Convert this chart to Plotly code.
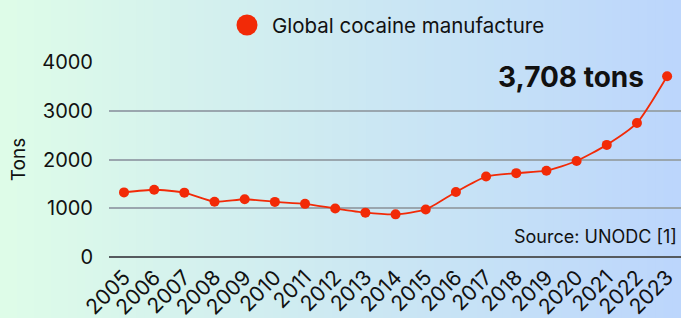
import plotly.graph_objects as go

years = [str(y) for y in range(2005, 2024)]
tons = [1325, 1380, 1320, 1135, 1185, 1130, 1090, 995, 910, 875, 975, 1335, 1650, 1720, 1770, 1970, 2300, 2750, 3708]
y_ticks = [0, 1000, 2000, 3000, 4000]
series_name = "Global cocaine manufacture"
callout = "3,708 tons"
source_text = "Source: UNODC [1]"

W, H = 681, 318
ML, MR, MT, MB = 109, 0, 62, 61
FONT = "Inter"
RED = "#f22a07"
TXT = "#111111"

fig = go.Figure()
fig.add_trace(go.Scatter(
    x=list(range(len(years))), y=tons, mode="lines+markers", name=series_name,
    line=dict(color=RED, width=1.8, shape="spline", smoothing=0.6),
    marker=dict(color=RED, size=10),
    showlegend=False, cliponaxis=False,
))

pw = W - ML - MR
ph = H - MT - MB
x0p = -ML / pw
x1p = 1 + MR / pw
n = 80
c0 = (222, 252, 232)
c1 = (188, 214, 252)
shapes = []
for i in range(n):
    t = i / (n - 1)
    c = tuple(round(c0[k] + (c1[k] - c0[k]) * t) for k in range(3))
    a = x0p + (x1p - x0p) * i / n
    b = x0p + (x1p - x0p) * (i + 1) / n + 0.002
    shapes.append(dict(type="rect", xref="paper", yref="paper", x0=a, x1=b, y0=-1, y1=2,
                       fillcolor="rgb(%d,%d,%d)" % c, line=dict(width=0), layer="below"))

# legend (manual, to match the large symbol)
leg_x = (247 - ML) / pw
leg_y = (H - MB - 25) / ph
shapes.append(dict(type="circle", xref="paper", yref="paper", xsizemode="pixel", ysizemode="pixel",
                   xanchor=leg_x, yanchor=leg_y, x0=-10.5, x1=10.5, y0=-10.5, y1=10.5,
                   fillcolor=RED, line=dict(width=0)))

fig.update_layout(
    width=W, height=H, margin=dict(l=ML, r=MR, t=MT, b=MB, autoexpand=False),
    paper_bgcolor="#d6f0ee", plot_bgcolor="rgba(0,0,0,0)",
    font=dict(family=FONT, color=TXT, size=20),
    shapes=shapes,
    showlegend=False,
    xaxis=dict(tickmode="array", tickvals=list(range(len(years))), ticktext=years,
               range=[-0.497, 18.46], tickangle=-45, showgrid=False, automargin=False,
               zeroline=False, showline=False, tickfont=dict(size=21),
               ticklabelstandoff=3, ticklabeloverflow="allow"),
    yaxis=dict(range=[0, 4000], tickvals=y_ticks, showgrid=True, gridcolor="#9aa6ae",
               gridwidth=1.5, zeroline=True, zerolinecolor="#555a5e", zerolinewidth=2,
               automargin=False,
               title=dict(text="Tons", font=dict(size=19), standoff=11),
               ticklabelstandoff=15, tickfont=dict(size=20)),
    annotations=[
        dict(x=(270 - ML) / pw, y=leg_y, xref="paper", yref="paper", text=series_name,
             showarrow=False, xanchor="left", yanchor="middle", font=dict(size=20.5, color=TXT)),
        dict(x=len(years) - 1, y=tons[-1], xref="x", yref="y", text="<b>" + callout + "</b>",
             showarrow=False, xanchor="right", yanchor="middle", xshift=-21, yshift=-1,
             font=dict(size=28, color=TXT)),
        dict(x=1, y=430, xref="paper", yref="y", text=source_text, showarrow=False,
             xanchor="right", yanchor="middle", xshift=-2, font=dict(size=18, color=TXT)),
    ],
)

fig.write_html("out.html", config={"displayModeBar": False},
               post_script="document.body.style.margin='0';")
